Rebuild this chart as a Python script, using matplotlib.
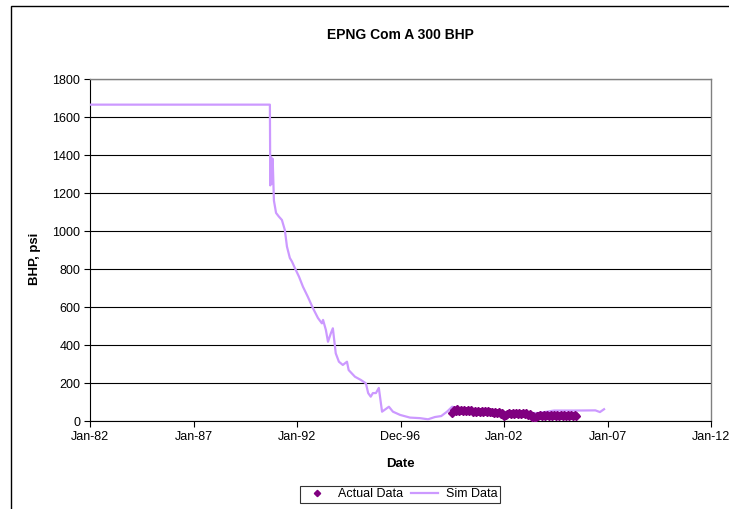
import numpy as np
import pandas as pd
import matplotlib
matplotlib.use("Agg")
import matplotlib.pyplot as plt
import matplotlib.patches as patches
import matplotlib.dates as mdates

plt.rcParams['font.family'] = ['Liberation Sans', 'DejaVu Sans']

# simulated BHP (psi)
sim_dates = ["1982-01-01", "1990-09-10", "1990-09-17", "1990-10-01", "1990-10-15",
             "1990-10-29", "1990-11-20", "1990-12-28", "1991-02-15", "1991-04-10",
             "1991-06-01", "1991-07-08", "1991-08-28", "1991-10-05", "1991-11-25",
             "1992-02-05", "1992-04-15", "1992-07-10", "1992-10-10", "1993-01-05",
             "1993-03-15", "1993-04-05", "1993-05-25", "1993-07-01", "1993-08-20",
             "1993-09-25", "1993-11-15", "1994-01-10", "1994-03-20", "1994-06-01",
             "1994-07-01", "1994-10-20", "1995-02-01", "1995-05-01", "1995-06-10",
             "1995-07-25", "1995-09-01", "1995-10-25", "1995-12-15", "1996-02-10",
             "1996-06-10", "1996-08-20", "1996-12-25", "1997-06-15", "1997-12-10",
             "1998-05-01", "1998-09-01", "1998-12-20", "1999-04-01", "1999-07-01",
             "2000-01-01", "2001-01-01", "2002-01-01", "2002-08-01", "2003-06-01",
             "2003-09-01", "2004-06-01", "2005-06-01", "2006-06-01", "2006-08-20",
             "2006-11-01"]
sim_bhp = [1665, 1665, 1240, 1390, 1250,
           1380, 1160, 1095, 1076, 1058,
           1005, 918, 858, 839, 805,
           760, 707, 654, 593, 542,
           514, 532, 479, 417, 461,
           488, 356, 312, 295, 312,
           268, 233, 216, 198, 147,
           128, 147, 147, 174, 49,
           75, 49, 32, 18, 15,
           9, 21, 26, 49, 75,
           60, 55, 48, 40, 42,
           42, 55, 55, 56, 47,
           62]

# measured BHP, monthly from Jul-1999
actual_start = "1999-07-01"
actual_bhp = [40, 60, 52, 62, 55, 60,
              53, 58, 52, 57, 51, 56, 50, 55, 50, 54, 49, 53,
              48, 52, 47, 51, 46, 50, 44, 48, 42, 46, 38, 42,
              26, 32, 36, 42, 38, 44, 37, 43, 38, 42, 36, 40,
              38, 41, 34, 38, 22, 26, 18, 24, 26, 30, 24, 30,
              26, 31, 25, 30, 27, 32, 26, 30, 25, 30, 27, 31,
              25, 30, 26, 31, 28, 30, 27]

x_range = ["1982-01-01", "2012-01-01"]
x_labels = ["Jan-82", "Jan-87", "Jan-92", "Dec-96", "Jan-02", "Jan-07", "Jan-12"]
y_ticks = [0, 200, 400, 600, 800, 1000, 1200, 1400, 1600, 1800]

sim_x = pd.to_datetime(sim_dates)
act_x = pd.date_range(actual_start, periods=len(actual_bhp), freq="MS")

fig = plt.figure(figsize=(7.29, 5.09), dpi=100)
ax = fig.add_axes([90 / 729, 88 / 509, 621 / 729, 342 / 509])

# outer chart border
fig.patches.append(patches.Rectangle((11 / 729, -0.02), 1.0, 1 - 6 / 509 + 0.02,
                                     transform=fig.transFigure, fill=False,
                                     edgecolor="black", linewidth=1.0))

ax.plot(act_x, actual_bhp, linestyle="none", marker="D", markersize=4,
        color="#800080", label="Actual Data", zorder=4)
ax.plot(sim_x, sim_bhp, color="#CC99FF", linewidth=1.6, label="Sim Data", zorder=3)

lo, hi = mdates.date2num(pd.to_datetime(x_range))
ax.set_xlim(lo, hi)
ax.set_xticks(np.linspace(lo, hi, len(x_labels)))
ax.set_xticklabels(x_labels)
ax.set_ylim(0, 1800)
ax.set_yticks(y_ticks)

ax.yaxis.grid(True, color="black", linewidth=0.8)
ax.set_axisbelow(True)
ax.tick_params(axis="both", labelsize=9, length=4, width=0.8, direction="out", pad=3)
for s in ["left", "bottom"]:
    ax.spines[s].set_color("black")
    ax.spines[s].set_linewidth(0.8)
for s in ["top", "right"]:
    ax.spines[s].set_color("#808080")
    ax.spines[s].set_linewidth(1.0)

fig.text(400 / 729, 1 - 35 / 509, "EPNG Com A 300 BHP", ha="center", va="center",
         fontsize=10, fontweight="bold")
fig.text(35 / 729, 250 / 509, "BHP, psi", ha="center", va="center", rotation=90,
         fontsize=9.5, fontweight="bold")
fig.text(400 / 729, 1 - 464 / 509, "Date", ha="center", va="center",
         fontsize=9.5, fontweight="bold")

leg = fig.legend(loc="center", bbox_to_anchor=(400 / 729, 1 - 494 / 509), ncol=2,
                 fontsize=9, frameon=True, fancybox=False, edgecolor="black",
                 handlelength=2.2, columnspacing=0.6, handletextpad=0.6,
                 borderpad=0.2, borderaxespad=0, markerscale=0.8)
leg.get_frame().set_linewidth(0.8)

fig.savefig("out.png", dpi=100)
